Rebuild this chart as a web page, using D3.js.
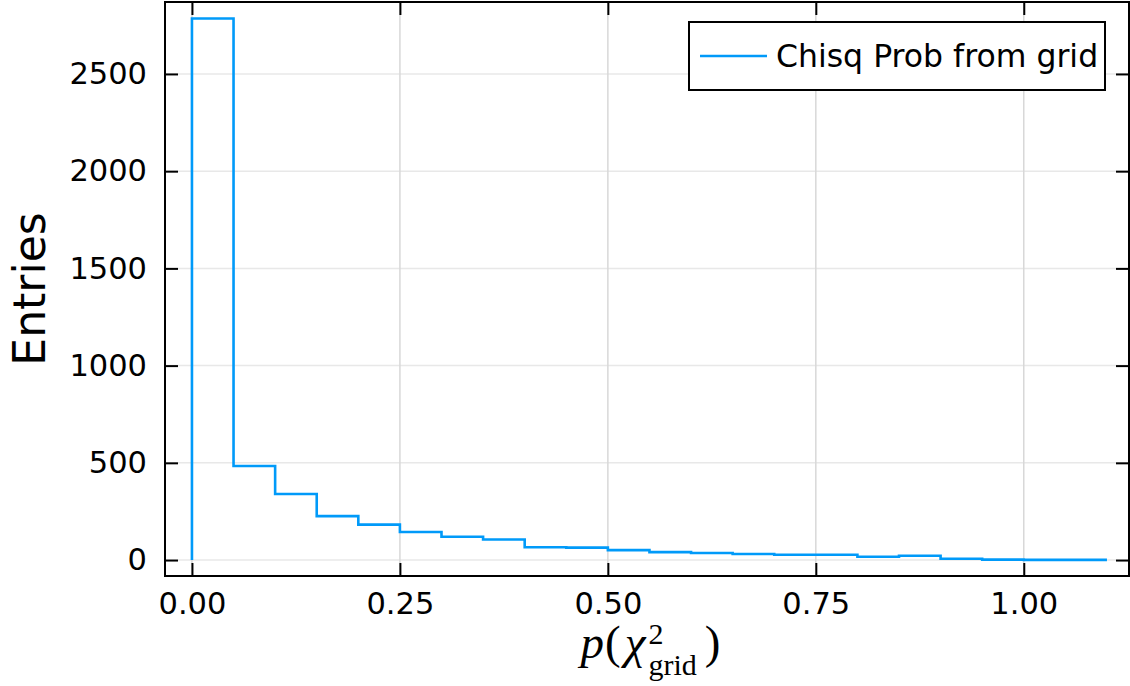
<!DOCTYPE html>
<html>
<head>
<meta charset="utf-8">
<script src="https://cdn.jsdelivr.net/npm/d3@7"></script>
<style>
  body { margin: 0; background: #fff; }
  svg { display: block; }
</style>
</head>
<body>
<svg id="chart" width="1130" height="686"></svg>
<script>
// bin edges of the histogram (width 0.05 from 0 to 1.1)
const binEdges = [0.00, 0.05, 0.10, 0.15, 0.20, 0.25, 0.30, 0.35, 0.40, 0.45, 0.50,
                  0.55, 0.60, 0.65, 0.70, 0.75, 0.80, 0.85, 0.90, 0.95, 1.00, 1.05, 1.10];
// entries per bin
const binCounts = [2785, 484, 340, 226, 182, 144, 120, 106, 66, 64, 51,
                   41, 36, 31, 27, 27, 17, 22, 7, 2, 1, 1];
const xTicks = [0, 0.25, 0.5, 0.75, 1.0];
const yTicks = [0, 500, 1000, 1500, 2000, 2500];
const seriesName = "Chisq Prob from grid";

const svg = d3.select("#chart");
const pLeft = 165, pRight = 1129, pTop = 2, pBottom = 576;
const lineColor = "#009af9";
const sans = "'DejaVu Sans', sans-serif";

const x = d3.scaleLinear().domain([-0.0324, 1.1265]).range([pLeft, pRight]);
const y = d3.scaleLinear().domain([-82, 2870]).range([pBottom, pTop]);

// grid
svg.append("g").selectAll("line").data(yTicks).enter().append("line")
  .attr("x1", pLeft).attr("x2", pRight)
  .attr("y1", d => y(d)).attr("y2", d => y(d))
  .attr("stroke", "#e8e8e8").attr("stroke-width", 1.5);
svg.append("g").selectAll("line").data(xTicks).enter().append("line")
  .attr("y1", pTop).attr("y2", pBottom)
  .attr("x1", d => x(d)).attr("x2", d => x(d))
  .attr("stroke", "#d8d8d8").attr("stroke-width", 1.5);

// step histogram path
const pts = [[binEdges[0], 0]];
binCounts.forEach((c, i) => {
  pts.push([binEdges[i], c]);
  pts.push([binEdges[i + 1], c]);
});
svg.append("path")
  .attr("d", d3.line().x(d => x(d[0])).y(d => y(d[1]))(pts))
  .attr("fill", "none")
  .attr("stroke", lineColor)
  .attr("stroke-width", 2.6)
  .attr("stroke-linejoin", "miter");

// axes (box frame with inner ticks on all sides)
function styleAxis(g) {
  g.select(".domain").remove();
  g.selectAll(".tick line").attr("stroke", "#000").attr("stroke-width", 2);
  g.selectAll(".tick text").attr("fill", "#000").style("font-family", sans).style("font-size", "30.5px");
}
const tickLen = 13;
svg.append("g").attr("transform", `translate(0,${pBottom})`)
  .call(d3.axisBottom(x).tickValues(xTicks).tickFormat(d3.format(".2f")).tickSizeInner(-tickLen).tickSizeOuter(0).tickPadding(16))
  .call(styleAxis);
svg.append("g").attr("transform", `translate(0,${pTop})`)
  .call(d3.axisTop(x).tickValues(xTicks).tickFormat("").tickSizeInner(-tickLen).tickSizeOuter(0))
  .call(styleAxis);
svg.append("g").attr("transform", `translate(${pLeft},0)`)
  .call(d3.axisLeft(y).tickValues(yTicks).tickFormat(d3.format("d")).tickSizeInner(-tickLen).tickSizeOuter(0).tickPadding(18))
  .call(styleAxis);
svg.append("g").attr("transform", `translate(${pRight},0)`)
  .call(d3.axisRight(y).tickValues(yTicks).tickFormat("").tickSizeInner(-tickLen).tickSizeOuter(0))
  .call(styleAxis);

svg.append("rect")
  .attr("x", pLeft).attr("y", pTop).attr("width", pRight - pLeft).attr("height", pBottom - pTop)
  .attr("fill", "none").attr("stroke", "#000").attr("stroke-width", 2);

// y label
svg.append("text")
  .attr("transform", `translate(45,${(pTop + pBottom) / 2}) rotate(-90)`)
  .attr("text-anchor", "middle")
  .style("font-family", sans).style("font-size", "44px")
  .text("Entries");

// x label: p(χ²_grid), laid out piece by piece on a common baseline
const serif = "'Liberation Serif', 'DejaVu Serif', serif";
const xl = svg.append("g");
let cx = 0;
function piece(txt, size, italic, dy) {
  return xl.append("text").attr("x", cx).attr("y", dy)
    .style("font-family", serif).style("font-size", size + "px")
    .style("font-style", italic ? "italic" : "normal").text(txt);
}
let t = piece("p", 47, true, 0); cx += t.node().getComputedTextLength() + 1;
t = piece("(", 47, false, 0); cx += t.node().getComputedTextLength() + 4;
t = piece("χ", 47, true, 0); cx += t.node().getComputedTextLength() + 3;
const sup = piece("2", 30, false, -14);
const sub = piece("grid", 30, false, 17);
cx += Math.max(sup.node().getComputedTextLength(), sub.node().getComputedTextLength()) + 8;
piece(")", 47, false, 0);
const bb = xl.node().getBBox();
xl.attr("transform", `translate(${649 - bb.width / 2 - bb.x},658)`);

// legend
const lg = svg.append("g");
lg.append("rect").attr("x", 689).attr("y", 22).attr("width", 416).attr("height", 68)
  .attr("fill", "#fff").attr("stroke", "#000").attr("stroke-width", 2);
lg.append("line").attr("x1", 700).attr("x2", 767).attr("y1", 56).attr("y2", 56)
  .attr("stroke", lineColor).attr("stroke-width", 2.6);
lg.append("text").attr("x", 776).attr("y", 67)
  .style("font-family", sans).style("font-size", "31.5px").text(seriesName);
</script>
</body>
</html>
